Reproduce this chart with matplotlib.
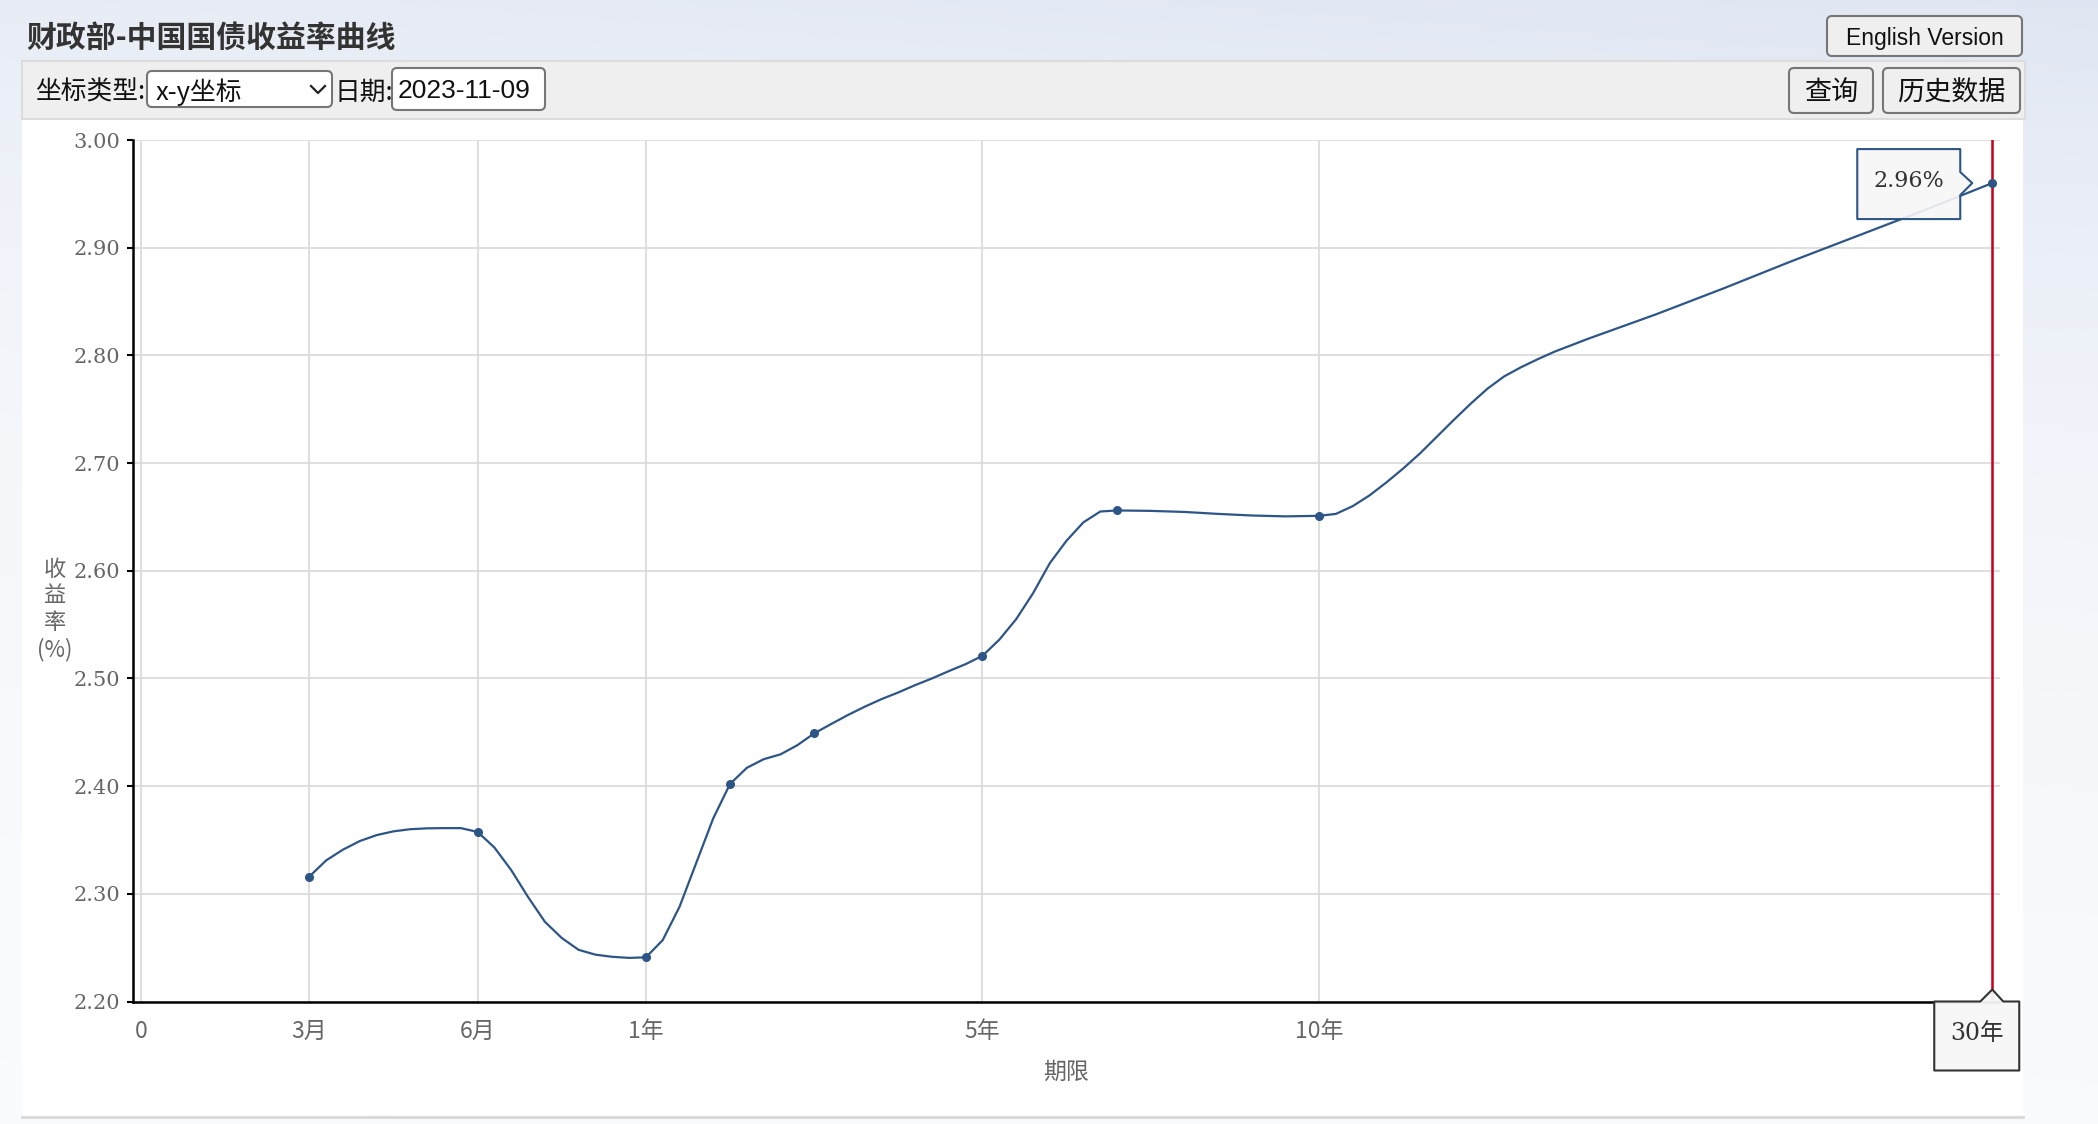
import numpy as np
import matplotlib.pyplot as plt
from matplotlib.patches import Rectangle, FancyBboxPatch, Polygon
from matplotlib.lines import Line2D

plt.rcParams['font.family'] = ['Noto Sans CJK SC', 'DejaVu Sans']

#%% data (yield curve 2023-11-09)
tick_years = [0, 0.25, 0.5, 1, 5, 10]
tick_labels = ['0', '3月', '6月', '1年', '5年', '10年']
y_ticks = [2.2, 2.3, 2.4, 2.5, 2.6, 2.7, 2.8, 2.9, 3.0]

# axis is not linear in years: each labelled term gets its own stretch
scale_years = [-1, 0, 0.25, 0.5, 1, 5, 10, 30, 50]
scale_steps = [-4, 0, 1, 2, 3, 5, 7, 11, 15]

point_years = [0.25, 0.5, 1, 2, 3, 5, 7, 10, 30]
point_yield = [2.316, 2.357, 2.241, 2.402, 2.449, 2.521, 2.656, 2.651, 2.960]

curve_years = [0.25, 0.275, 0.30, 0.325, 0.35, 0.375, 0.40, 0.425, 0.45, 0.475, 0.50,
               0.55, 0.60, 0.65, 0.70, 0.75, 0.80, 0.85, 0.90, 0.95, 1.0,
               1.2, 1.4, 1.6, 1.8, 2.0, 2.2, 2.4, 2.6, 2.8, 3.0,
               3.2, 3.4, 3.6, 3.8, 4.0, 4.2, 4.4, 4.6, 4.8, 5.0,
               5.25, 5.5, 5.75, 6.0, 6.25, 6.5, 6.75, 7.0, 7.5, 8.0, 8.5, 9.0, 9.5, 10.0,
               10.5, 11.0, 11.5, 12.0, 12.5, 13.0, 13.5, 14.0, 14.5, 15.0,
               15.5, 16.0, 16.5, 17.0, 17.5, 18.0, 20.0, 22.0, 24.0, 26.0, 28.0, 30.0]
curve_yield = [2.316, 2.331, 2.341, 2.349, 2.3545, 2.358, 2.360, 2.3608, 2.361, 2.361, 2.3575,
               2.343, 2.322, 2.297, 2.274, 2.259, 2.248, 2.2435, 2.2415, 2.2405, 2.241,
               2.257, 2.288, 2.329, 2.370, 2.402, 2.417, 2.425, 2.4295, 2.438, 2.449,
               2.4576, 2.466, 2.4737, 2.4808, 2.487, 2.4938, 2.500, 2.5068, 2.5133, 2.521,
               2.536, 2.555, 2.579, 2.607, 2.628, 2.645, 2.655, 2.656, 2.6556, 2.6546, 2.6528, 2.6513, 2.6505, 2.651,
               2.6528, 2.660, 2.670, 2.682, 2.695, 2.709, 2.7245, 2.740, 2.755, 2.769,
               2.7805, 2.789, 2.7965, 2.8035, 2.8095, 2.8155, 2.838, 2.862, 2.887, 2.911, 2.935, 2.960]

pointer_label = '30年'
title = '财政部-中国国债收益率曲线'
date_text = '2023-11-09'

line_c = '#2d5586'
red_c = '#c4001a'
grey_txt = '#666666'

W, H = 2098, 1124
fig = plt.figure(figsize=(W / 100, H / 100), dpi=100)

#%% page background (pixel coords, y down)
bg = fig.add_axes([0, 0, 1, 1], zorder=0)
yy, xx = np.mgrid[0:H:4, 0:W:4]
tint = 0.03 + 0.20 * np.exp(-yy / 450.0) + 0.08 * (xx / W) * np.exp(-yy / 600.0)
blue = np.array([0.60, 0.68, 0.84])
img = (1 - tint)[..., None] * 1.0 + tint[..., None] * blue
bg.imshow(img, extent=(0, W, H, 0), aspect='auto', interpolation='bilinear')
bg.set_xlim(0, W)
bg.set_ylim(H, 0)
bg.axis('off')

bg.add_patch(Rectangle((22, 119), 2001, 996, fc='white', ec='none'))
bg.add_patch(Rectangle((22, 61), 2003, 58, fc='#efefef', ec='#dcdcdc', lw=1.5))
bg.plot([22, 2023], [1117, 1117], color='#d8d8d8', lw=2)

bg.text(26, 38, title, fontsize=21.5, fontweight='bold', color='#333333', va='center')

def button(x, y, w, h, label, size, family=None, fc='#efefef'):
    bg.add_patch(FancyBboxPatch((x, y), w, h, boxstyle='round,pad=0,rounding_size=5',
                                fc=fc, ec='#767676', lw=1.5))
    if label:
        bg.text(x + w / 2, y + h / 2 + 2, label, fontsize=size, ha='center', va='center',
                color='#111111', family=family)

button(1827, 16, 195, 40, 'English Version', 16.5, family=['Liberation Sans'])
button(1789, 68, 84, 45, '查询', 19.5)
button(1883, 68, 137, 45, '历史数据', 19.5)

bg.text(35, 93, '坐标类型:', fontsize=18.5, va='center', color='#111111')
button(147, 71, 185, 36, None, 18, fc='white')
bg.text(156, 92, 'x-y坐标', fontsize=18.5, va='center', color='#111111')
bg.add_line(Line2D([311, 318, 325], [86, 93, 86], color='#222222', lw=1.6))
bg.text(334, 93, '日期:', fontsize=18.5, va='center', color='#111111')
button(392, 68, 153, 42, None, 18, fc='white')
bg.text(398, 91, date_text, fontsize=19, va='center', color='#111111',
        family=['Liberation Sans'])

#%% chart
ax = fig.add_axes([133 / W, 1 - 1001.5 / H, (2000 - 133) / W, (1001.5 - 140) / H], zorder=2)
ax.set_facecolor('none')
fwd = lambda x: np.interp(x, scale_years, scale_steps)
inv = lambda u: np.interp(u, scale_steps, scale_years)
ax.set_xscale('function', functions=(fwd, inv))
ax.set_xlim(inv(-0.0475), inv(11.046))
ax.set_ylim(y_ticks[0], y_ticks[-1])

ax.set_xticks(tick_years, tick_labels)
ax.set_yticks(y_ticks, ['%.2f' % v for v in y_ticks], family=['DejaVu Serif'])
ax.grid(True, color='#d9d9d9', lw=1.2, zorder=0)
ax.set_axisbelow(True)
for s in ['top', 'right']:
    ax.spines[s].set_visible(False)
for s in ['left', 'bottom']:
    ax.spines[s].set_linewidth(1.8)
    ax.spines[s].set_color('black')
ax.tick_params(axis='x', length=0, pad=13, labelsize=16.5, labelcolor=grey_txt)
ax.tick_params(axis='y', length=4, width=1.5, pad=5, labelsize=15, labelcolor=grey_txt)

ax.plot(curve_years, curve_yield, color=line_c, lw=1.6, solid_joinstyle='round', zorder=3)
ax.plot(point_years, point_yield, 'o', ms=5.5, color=line_c, zorder=4)
ax.axvline(point_years[-1], color=red_c, lw=1.8, zorder=3)

ax.set_xlabel('期限', fontsize=16.5, color=grey_txt)
ax.xaxis.set_label_coords(0.5, -0.082)
ax.xaxis.label.set_va('center')
ax.set_ylabel('收\n益\n率\n(%)', fontsize=16, color=grey_txt, rotation=0, linespacing=1.2)
ax.yaxis.set_label_coords(-0.0418, 0.455)
ax.yaxis.label.set_va('center')
ax.yaxis.label.set_ha('center')

#%% tooltip and axis pointer label (pixel coords, y down)
top = fig.add_axes([0, 0, 1, 1], zorder=5)
top.set_xlim(0, W)
top.set_ylim(H, 0)
top.axis('off')
top.patch.set_alpha(0)

px, py = ax.transData.transform((point_years[-1], point_yield[-1]))
X, Y = px, H - py
tip = [(X - 135, Y - 34), (X - 32, Y - 34), (X - 32, Y - 11), (X - 20, Y), (X - 32, Y + 12),
       (X - 32, Y + 36), (X - 135, Y + 36)]
top.add_patch(Polygon(tip, closed=True, fc=(0.97, 0.97, 0.97, 0.9), ec=line_c, lw=1.5,
                      joinstyle='round'))
top.text(X - 83.5, Y - 2, '%.2f%%' % point_yield[-1], fontsize=16, color='#333333',
         ha='center', va='center', family=['DejaVu Serif'])

B = H - ax.transAxes.transform((0, 0))[1]
lab = [(X - 58, B), (X - 12, B), (X, B - 12), (X + 11, B), (X + 27, B), (X + 27, B + 69),
       (X - 58, B + 69)]
top.add_patch(Polygon(lab, closed=True, fc=(0.97, 0.97, 0.97, 0.95), ec='#333333', lw=1.5,
                      joinstyle='round'))
top.text(X - 15.5, B + 32, pointer_label, fontsize=17, color='#333333', ha='center',
         va='center', family=['DejaVu Serif', 'Noto Sans CJK SC'])

fig.savefig('out.png', dpi=100)
